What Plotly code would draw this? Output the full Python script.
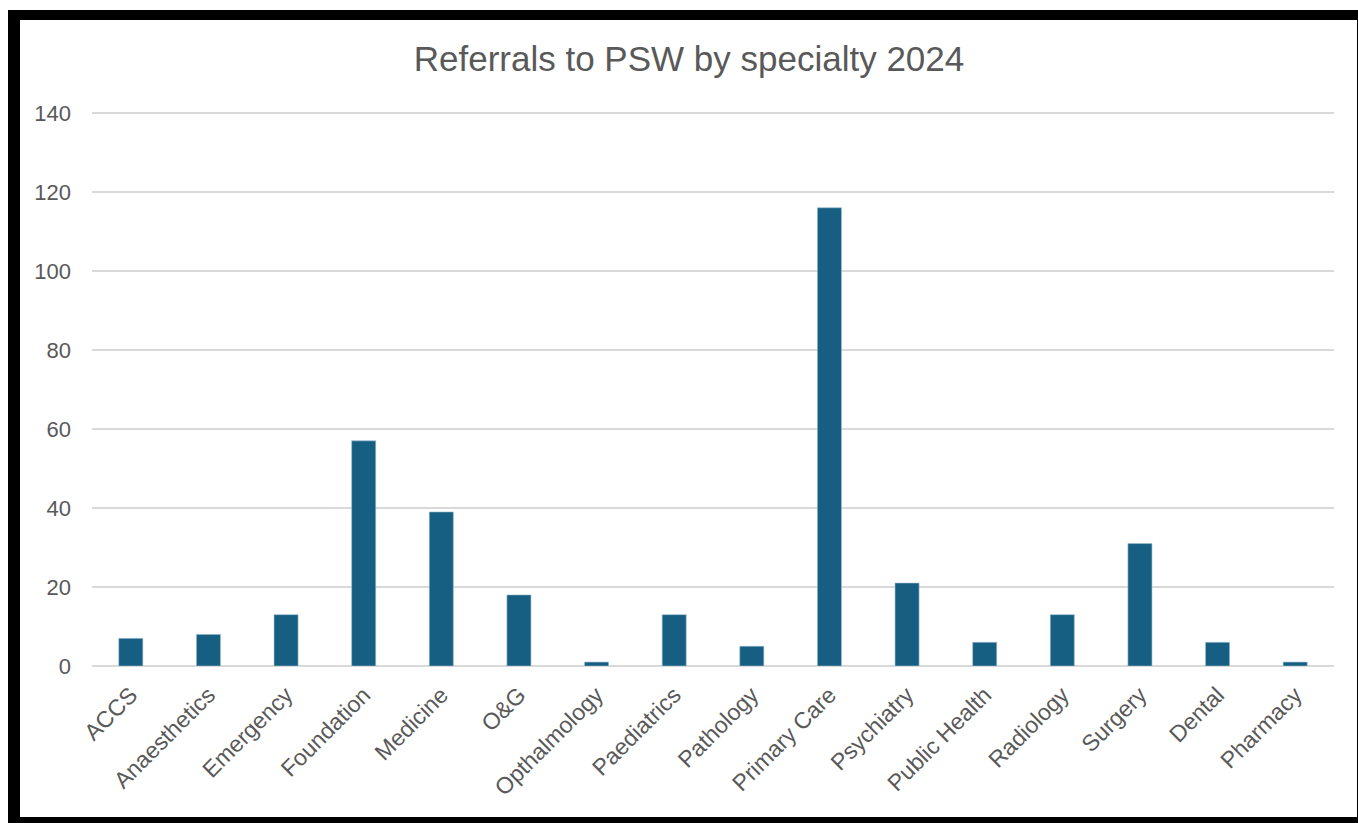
import plotly.graph_objects as go

categories = ["ACCS", "Anaesthetics", "Emergency", "Foundation", "Medicine", "O&G",
              "Opthalmology", "Paediatrics", "Pathology", "Primary Care", "Psychiatry",
              "Public Health", "Radiology", "Surgery", "Dental", "Pharmacy"]
referrals = [7, 8, 13, 57, 39, 18, 1, 13, 5, 116, 21, 6, 13, 31, 6, 1]
y_ticks = [0, 20, 40, 60, 80, 100, 120, 140]

W, H = 1358, 823
ML, MR, MT, MB = 92, 24, 111, 157
PW, PH = W - ML - MR, H - MT - MB

FONT = "Liberation Sans, Arial, sans-serif"


def px_x(x):
    return (x - ML) / PW


def px_y(y):
    return (H - MB - y) / PH


fig = go.Figure()
fig.add_trace(go.Bar(
    x=categories, y=referrals,
    marker=dict(color="#165f82", line=dict(color="#9fc0d2", width=0.6)),
))

shapes = [
    dict(type="rect", xref="paper", yref="paper", layer="below",
         x0=px_x(8), x1=px_x(1358), y0=px_y(823), y1=px_y(10),
         fillcolor="black", line=dict(width=0)),
    dict(type="rect", xref="paper", yref="paper", layer="below",
         x0=px_x(20), x1=px_x(1357), y0=px_y(817), y1=px_y(20),
         fillcolor="white", line=dict(width=0)),
]

fig.update_layout(
    width=W, height=H,
    margin=dict(l=ML, r=MR, t=MT, b=MB),
    paper_bgcolor="white",
    plot_bgcolor="rgba(0,0,0,0)",
    shapes=shapes,
    bargap=0.69,
    showlegend=False,
    font=dict(family=FONT, color="#595959"),
    title=dict(text="Referrals to PSW by specialty 2024", x=689 / W, xref="container",
               xanchor="center", y=1 - 59 / H, yref="container", yanchor="middle",
               font=dict(size=35, color="#595959", family=FONT)),
    xaxis=dict(tickangle=-45, tickfont=dict(size=23, color="#595959"),
               showgrid=False, showline=False, ticks="", ticklabelstandoff=10),
    yaxis=dict(range=[0, 140.5], tickvals=y_ticks, tickfont=dict(size=22, color="#595959"),
               showgrid=True, gridcolor="#d9d9d9", gridwidth=1.5,
               zeroline=True, zerolinecolor="#d9d9d9", zerolinewidth=1.5,
               showline=False, ticks="", ticklabelstandoff=20),
)

fig.write_html("out.html")
